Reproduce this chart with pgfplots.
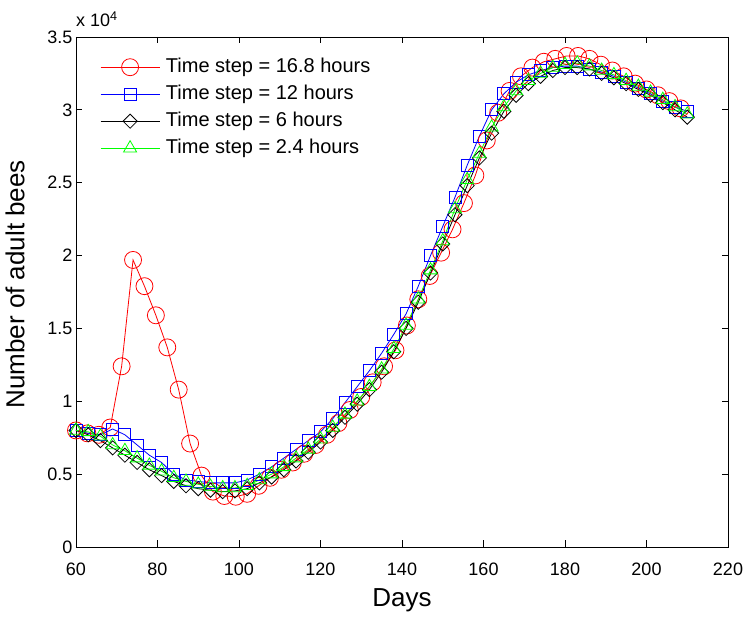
\documentclass[border=0pt]{standalone}
\usepackage{pgfplots}
\pgfplotsset{compat=1.18}
\usepackage{pgfplotstable}
\usepackage{fontspec}
\setmainfont{Liberation Sans}

\pgfplotstableread{
x y
60 8000
62.8 7800
65.6 7700
68.4 8200
71.2 12400
74.0 19700
76.8 17900
79.6 15900
82.4 13700
85.2 10800
88.0 7100
90.8 4900
93.6 3800
96.4 3500
99.2 3450
102.0 3650
104.8 4200
107.6 4750
110.4 5300
113.2 5800
116.0 6400
118.8 7000
121.6 7700
124.4 8500
127.2 9400
130.0 10300
132.8 11300
135.6 12400
138.4 13500
141.2 15200
144.0 17000
146.8 18600
149.6 20200
152.4 21800
155.2 23600
158.0 25500
160.8 27900
163.6 29800
166.4 31300
169.2 32300
172.0 32900
174.8 33300
177.6 33500
180.4 33700
183.2 33700
186.0 33500
188.8 33100
191.6 32700
194.4 32300
197.2 31800
200.0 31400
202.8 31000
205.6 30600
208.4 30100
}\redtab

\pgfplotstableread{
x y
60 8000
63 7800
66 7700
69 8100
72 7700
75 7000
78 6300
81 5800
84 5000
87 4600
90 4500
93 4400
96 4400
99 4400
102 4600
105 5000
108 5500
111 6100
114 6700
117 7300
120 7900
123 8800
126 9900
129 11000
132 12100
135 13300
138 14600
141 16000
144 17900
147 20000
150 22000
153 24000
156 26200
159 28200
162 30000
165 31100
168 31900
171 32400
174 32700
177 32900
180 33000
183 33000
186 32800
189 32600
192 32300
195 31900
198 31500
201 31100
204 30600
207 30200
210 29900
}\bluetab

\pgfplotstableread{
x y
60 8000
63 7700
66 7300
69 6800
72 6300
75 5800
78 5300
81 4900
84 4500
87 4200
90 4000
93 3900
96 3800
99 3850
102 4000
105 4400
108 4800
111 5300
114 5900
117 6500
120 7200
123 8000
126 8900
129 9800
132 10800
135 12000
138 13400
141 15000
144 16800
147 18800
150 20800
153 22800
156 24800
159 26700
162 28400
165 29900
168 31000
171 31800
174 32300
177 32700
180 32900
183 32900
186 32800
189 32500
192 32200
195 31800
198 31400
201 31000
204 30500
207 30000
210 29500
}\blacktab

\pgfplotstableread{
x y
60 8000
63 7900
66 7600
69 7000
72 6600
75 6100
78 5600
81 5200
84 4750
87 4500
90 4300
93 4150
96 4050
99 4050
102 4200
105 4600
108 5000
111 5500
114 6100
117 6700
120 7400
123 8200
126 9100
129 10000
132 11000
135 12200
138 13600
141 15200
144 17000
147 19000
150 21000
153 23200
156 25200
159 27000
162 28800
165 30200
168 31300
171 32000
174 32500
177 32900
180 33100
183 33200
186 33000
189 32700
192 32400
195 32000
198 31600
201 31200
204 30700
207 30200
210 29700
}\greentab

\begin{document}
\begin{tikzpicture}
\path[use as bounding box] (-76pt,-76pt) rectangle (672pt,547pt);
\begin{axis}[
  at={(0,0)}, anchor=south west,
  scale only axis, width=652pt, height=510pt,
  xmin=60, xmax=220, ymin=0, ymax=35000,
  xtick={60,80,100,120,140,160,180,200,220},
  xticklabels={60,80,100,120,140,160,180,200,220},
  ytick={0,5000,10000,15000,20000,25000,30000,35000},
  yticklabels={0,0.5,1,1.5,2,2.5,3,3.5},
  scaled y ticks=false,
  tick align=inside,
  major tick length=6.5pt,
  axis line style={line width=0.8pt},
  every tick/.style={line width=0.8pt, black},
  tick label style={font=\fontsize{18}{20}\selectfont},
  xticklabel style={yshift=-12pt},
  xlabel={Days},
  ylabel={Number of adult bees},
  label style={font=\fontsize{26}{30}\selectfont},
  xlabel style={at={(axis description cs:0.5,-0.104)}, anchor=center},
  ylabel style={at={(axis description cs:-0.0936,0.515)}, anchor=center},
  legend cell align=left,
  legend style={draw=none, fill=none, at={(axis description cs:0,1)}, anchor=north west,
    xshift=24pt, yshift=-19pt, inner sep=0pt, row sep=5pt,
    font=\fontsize{20}{24}\selectfont,
    nodes={inner sep=1pt, text height=15pt, text depth=5pt},
    /tikz/every odd column/.append style={column sep=5pt}},
  legend image code/.code={\draw[mark repeat=2,mark phase=2] plot coordinates {(0pt,0pt) (29.5pt,0pt) (59pt,0pt)};},
  clip=false,
]
\addplot[color=red, draw=red, line width=0.8pt, mark=o, mark size=8.5pt, mark options={solid, draw=red, mark size=8.5pt, line width=0.8pt}] table[x=x,y=y] {\redtab};
\addlegendentry{Time step = 16.8 hours}
\addplot[color=blue, draw=blue, line width=0.8pt, mark=square, mark size=6pt, mark options={solid, draw=blue, mark size=6pt, line width=0.8pt}] table[x=x,y=y] {\bluetab};
\addlegendentry{Time step = 12 hours}
\addplot[color=black, draw=black, line width=0.8pt, mark=square, mark size=5pt, mark options={solid, draw=black, mark size=5pt, line width=0.8pt, rotate=45}] table[x=x,y=y] {\blacktab};
\addlegendentry{Time step = 6 hours}
\addplot[color=green, draw=green, line width=0.8pt, mark=triangle, mark size=7.5pt, mark options={solid, draw=green, mark size=7.5pt, line width=0.8pt}] table[x=x,y=y] {\greentab};
\addlegendentry{Time step = 2.4 hours}
\node[anchor=base west, inner sep=0pt, font=\fontsize{18}{20}\selectfont] at (axis description cs:0,1) [yshift=10pt] {x 10\textsuperscript{4}};
\end{axis}
\end{tikzpicture}
\end{document}
